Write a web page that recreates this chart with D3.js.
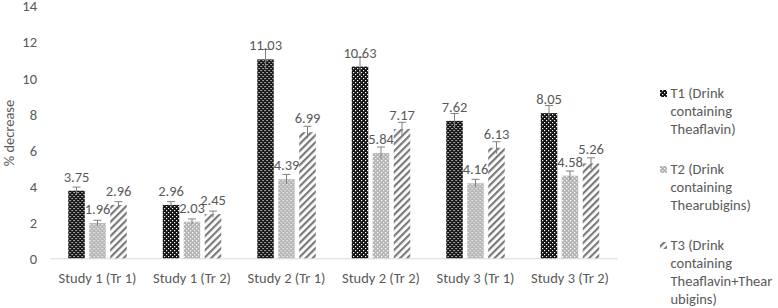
<!DOCTYPE html>
<html><head><meta charset="utf-8">
<script src="https://cdn.jsdelivr.net/npm/d3@7"></script>
<style>
html,body{margin:0;padding:0;background:#fff;}
svg{display:block;}
text{font-family:Carlito, Lato, "Open Sans", sans-serif;fill:#595959;}
</style></head>
<body>
<svg id="chart" width="778" height="308"></svg>
<script>
const categories = ["Study 1 (Tr 1)","Study 1 (Tr 2)","Study 2 (Tr 1)","Study 2 (Tr 2)","Study 3 (Tr 1)","Study 3 (Tr 2)"];
const seriesNames = ["T1","T2","T3"];
const legendLabels = [
  ["T1 (Drink","containing","Theaflavin)"],
  ["T2 (Drink","containing","Thearubigins)"],
  ["T3 (Drink","containing","Theaflavin+Thear","ubigins)"]
];
const t1Values = [3.75, 2.96, 11.03, 10.63, 7.62, 8.05];
const t2Values = [1.96, 2.03, 4.39, 5.84, 4.16, 4.58];
const t3Values = [2.96, 2.45, 6.99, 7.17, 6.13, 5.26];
const t1Errors = [0.2, 0.18, 0.55, 0.52, 0.41, 0.42];
const t2Errors = [0.15, 0.15, 0.26, 0.33, 0.22, 0.26];
const t3Errors = [0.18, 0.17, 0.33, 0.37, 0.33, 0.31];
const yTicks = [0,2,4,6,8,10,12,14];
const yTitle = "% decrease";

const values = [t1Values, t2Values, t3Values];
const errors = [t1Errors, t2Errors, t3Errors];

const svg = d3.select("#chart");
const defs = svg.append("defs");

// T1 pattern: black with white dots
const p1 = defs.append("pattern").attr("id","pT1").attr("patternUnits","userSpaceOnUse").attr("width",4).attr("height",4);
p1.append("rect").attr("width",4).attr("height",4).attr("fill","#111");
p1.append("rect").attr("x",0).attr("y",0).attr("width",1.2).attr("height",1.2).attr("fill","#fff");
p1.append("rect").attr("x",2).attr("y",2).attr("width",1.2).attr("height",1.2).attr("fill","#fff");
// T2 pattern: light gray with white dots
const p2 = defs.append("pattern").attr("id","pT2").attr("patternUnits","userSpaceOnUse").attr("width",4).attr("height",4);
p2.append("rect").attr("width",4).attr("height",4).attr("fill","#b4b4b4");
p2.append("rect").attr("x",0).attr("y",0).attr("width",1.3).attr("height",1.3).attr("fill","#fff");
p2.append("rect").attr("x",2).attr("y",2).attr("width",1.3).attr("height",1.3).attr("fill","#eee");
// T3 pattern: diagonal stripes
const p3 = defs.append("pattern").attr("id","pT3").attr("patternUnits","userSpaceOnUse").attr("width",5).attr("height",5).attr("patternTransform","rotate(45)");
p3.append("rect").attr("width",5).attr("height",5).attr("fill","#fff");
p3.append("rect").attr("x",0).attr("y",0).attr("width",2.2).attr("height",5).attr("fill","#7a7a7a");
const fills = ["url(#pT1)","url(#pT2)","url(#pT3)"];

const x0 = d3.scaleBand().domain(categories).range([50.25, 617.25]).paddingInner(0).paddingOuter(0);
const x1 = d3.scaleBand().domain(seriesNames).range([-29.25, 29.25]).paddingInner(0.214).paddingOuter(0);
const y = d3.scaleLinear().domain([0,14]).range([258.3, 5.8]);

// y tick labels
const yAxis = d3.axisLeft(y).tickValues(yTicks).tickSize(0).tickPadding(0);
const gy = svg.append("g").attr("transform","translate(37,0)").call(yAxis);
gy.select(".domain").remove();
gy.selectAll("text").style("font-size","14.5px").attr("fill","#595959").attr("dy","0.35em");

// x axis
const xAxis = d3.axisBottom(x0).tickSize(0).tickPadding(0);
const gx = svg.append("g").attr("transform","translate(0,258.3)").call(xAxis);
gx.select(".domain").attr("stroke","#d9d9d9").attr("stroke-width",1);
gx.selectAll("text").style("font-size","14.5px").attr("fill","#595959").attr("y",25).attr("dy","0");

// y title
svg.append("text").attr("transform","translate(14,133) rotate(-90)").attr("text-anchor","middle")
  .style("font-size","14.5px").text(yTitle);

// bars
const groups = svg.append("g").selectAll("g").data(categories).join("g")
  .attr("transform", d => `translate(${x0(d) + x0.bandwidth()/2},0)`);

seriesNames.forEach((s, si) => {
  groups.append("rect")
    .attr("x", x1(s)).attr("width", x1.bandwidth())
    .attr("y", (d,i) => y(values[si][i]))
    .attr("height", (d,i) => y(0) - y(values[si][i]))
    .attr("fill", fills[si]);
  // error bars
  const cx = x1(s) + x1.bandwidth()/2;
  groups.append("line")
    .attr("x1", cx).attr("x2", cx)
    .attr("y1", (d,i) => y(values[si][i] - errors[si][i]))
    .attr("y2", (d,i) => y(values[si][i] + errors[si][i]))
    .attr("stroke","#808080").attr("stroke-width",1);
  groups.append("line")
    .attr("x1", cx-4).attr("x2", cx+4)
    .attr("y1", (d,i) => y(values[si][i] + errors[si][i]))
    .attr("y2", (d,i) => y(values[si][i] + errors[si][i]))
    .attr("stroke","#808080").attr("stroke-width",1);
  // labels
  groups.append("text")
    .attr("x", cx).attr("y", (d,i) => y(values[si][i]) - 9)
    .attr("text-anchor","middle").style("font-size","14.5px")
    .text((d,i) => values[si][i].toFixed(2));
});

// legend
const legendFirst = [98, 174, 250];
const lineH = 18;
legendLabels.forEach((lines, li) => {
  const g = svg.append("g");
  g.append("rect").attr("x",660).attr("y",legendFirst[li]-8).attr("width",7).attr("height",7).attr("fill",fills[li]);
  lines.forEach((t, k) => {
    g.append("text").attr("x",670.5).attr("y",legendFirst[li] + k*lineH).style("font-size","14.5px").text(t);
  });
});
</script>
</body></html>
